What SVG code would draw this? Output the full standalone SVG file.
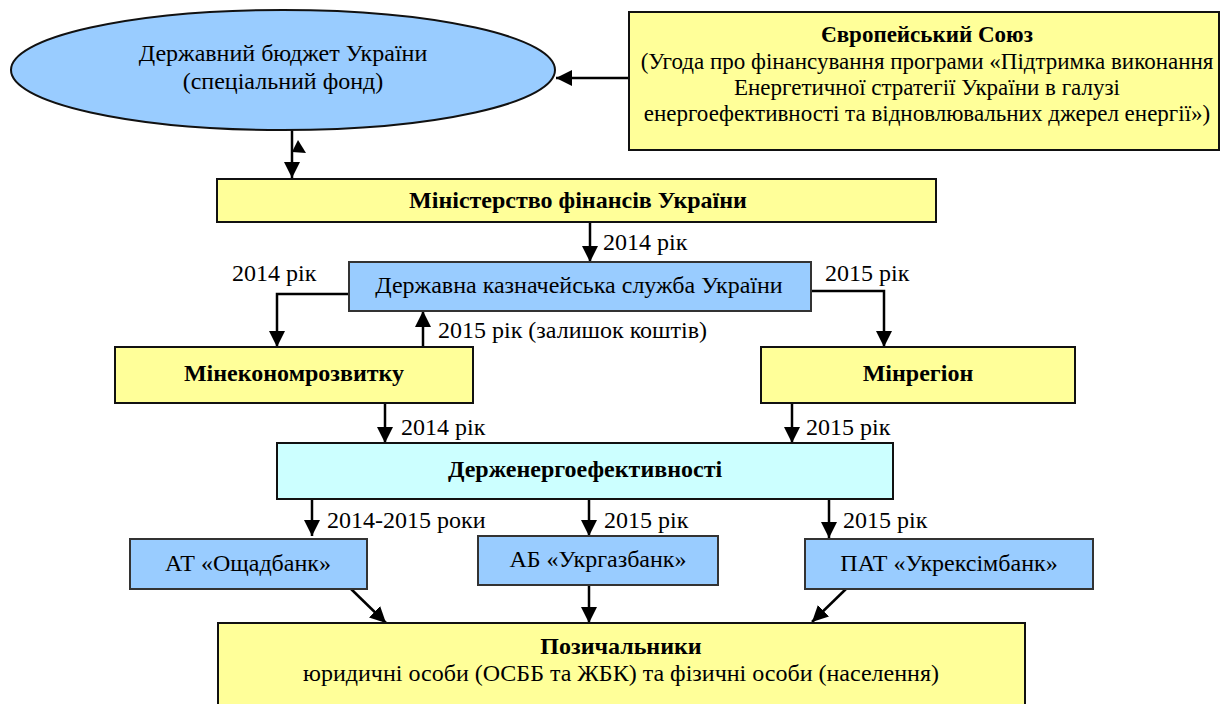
<svg xmlns="http://www.w3.org/2000/svg" width="1223" height="704" viewBox="0 0 1223 704">
<style>
text{font-family:"Liberation Serif","Times New Roman",serif;font-size:24px;fill:#000}
.c{text-anchor:middle}
.b{font-weight:bold}
.e{font-size:23px}
.y{fill:#ffff99;stroke:#111;stroke-width:2}
.bl{fill:#99ccff;stroke:#333;stroke-width:2}
.cy{fill:#ccffff;stroke:#111;stroke-width:2}
.ln{fill:none;stroke:#000;stroke-width:2.5}
</style>
<defs>
<marker id="ah" markerUnits="userSpaceOnUse" markerWidth="16" markerHeight="16" viewBox="0 0 16 16" refX="16" refY="8" orient="auto">
<path d="M0,0 L16,8 L0,16 z" fill="#000"/>
</marker>
</defs>
<rect width="1223" height="704" fill="#fff"/>

<g id="connectors">
<line class="ln" x1="629" y1="78" x2="556" y2="78" marker-end="url(#ah)"/>
<line class="ln" x1="292" y1="130" x2="292" y2="178" marker-end="url(#ah)"/>
<polygon points="298,140 306,153 292,152" fill="#000"/>
<line class="ln" x1="590" y1="222" x2="590" y2="262" marker-end="url(#ah)"/>
<polyline class="ln" points="349,294 277,294 277,347" marker-end="url(#ah)"/>
<line class="ln" x1="423" y1="347" x2="423" y2="311" marker-end="url(#ah)"/>
<polyline class="ln" points="811,291 884,291 884,347" marker-end="url(#ah)"/>
<line class="ln" x1="385" y1="403" x2="385" y2="443" marker-end="url(#ah)"/>
<line class="ln" x1="792" y1="403" x2="792" y2="443" marker-end="url(#ah)"/>
<line class="ln" x1="312" y1="499" x2="312" y2="536" marker-end="url(#ah)"/>
<line class="ln" x1="589" y1="499" x2="589" y2="536" marker-end="url(#ah)"/>
<line class="ln" x1="829" y1="499" x2="829" y2="538" marker-end="url(#ah)"/>
<line class="ln" x1="349" y1="587" x2="386" y2="623" marker-end="url(#ah)"/>
<line class="ln" x1="589" y1="585" x2="589" y2="623" marker-end="url(#ah)"/>
<line class="ln" x1="848" y1="587" x2="812" y2="622" marker-end="url(#ah)"/>
<text x="603" y="250">2014 рік</text>
<text x="232" y="281">2014 рік</text>
<text x="438" y="338">2015 рік (залишок коштів)</text>
<text x="825" y="281">2015 рік</text>
<text x="401" y="435">2014 рік</text>
<text x="806" y="435">2015 рік</text>
<text x="327" y="528">2014-2015 роки</text>
<text x="604" y="528">2015 рік</text>
<text x="843" y="528">2015 рік</text>
</g>

<g id="budget">
<ellipse cx="283" cy="70" rx="272" ry="60" fill="#99ccff" stroke="#111" stroke-width="2"/>
<text class="c" x="283" y="61">Державний бюджет України</text>
<text class="c" x="283" y="89">(спеціальний фонд)</text>
</g>

<g id="eu">
<rect class="y" x="629" y="12" width="590" height="138"/>
<text class="c b e" x="927" y="42">Європейський Союз</text>
<text class="c e" x="927" y="69">(Угода про фінансування програми «Підтримка виконання</text>
<text class="c e" x="927" y="95">Енергетичної стратегії України в галузі</text>
<text class="c e" x="927" y="121">енергоефективності та відновлювальних джерел енергії»)</text>
</g>

<g id="minfin">
<rect class="y" x="217" y="179" width="719" height="43"/>
<text class="c b" x="578" y="208">Міністерство фінансів України</text>
</g>

<g id="treasury">
<rect class="bl" x="349" y="262" width="462" height="49"/>
<text class="c" x="579" y="293">Державна казначейська служба України</text>
</g>

<g id="mineconom">
<rect class="y" x="115" y="347" width="358" height="56"/>
<text class="c b" x="294" y="381">Мінекономрозвитку</text>
</g>

<g id="minregion">
<rect class="y" x="761" y="347" width="314" height="56"/>
<text class="c b" x="918" y="381">Мінрегіон</text>
</g>

<g id="derzhenergo">
<rect class="cy" x="277" y="443" width="616" height="56"/>
<text class="c b" x="585" y="477">Держенергоефективності</text>
</g>

<g id="oschadbank">
<rect class="bl" x="130" y="539" width="237" height="50"/>
<text class="c" x="248" y="571">АТ «Ощадбанк»</text>
</g>

<g id="ukrgazbank">
<rect class="bl" x="478" y="536" width="240" height="49"/>
<text class="c" x="598" y="567">АБ «Укргазбанк»</text>
</g>

<g id="ukreximbank">
<rect class="bl" x="805" y="539" width="288" height="50"/>
<text class="c" x="949" y="571">ПАТ «Укрексімбанк»</text>
</g>

<g id="borrowers">
<rect class="y" x="218" y="623" width="807" height="90"/>
<text class="c b" x="621" y="654">Позичальники</text>
<text class="c" x="621" y="681">юридичні особи (ОСББ та ЖБК) та фізичні особи (населення)</text>
</g>
</svg>
